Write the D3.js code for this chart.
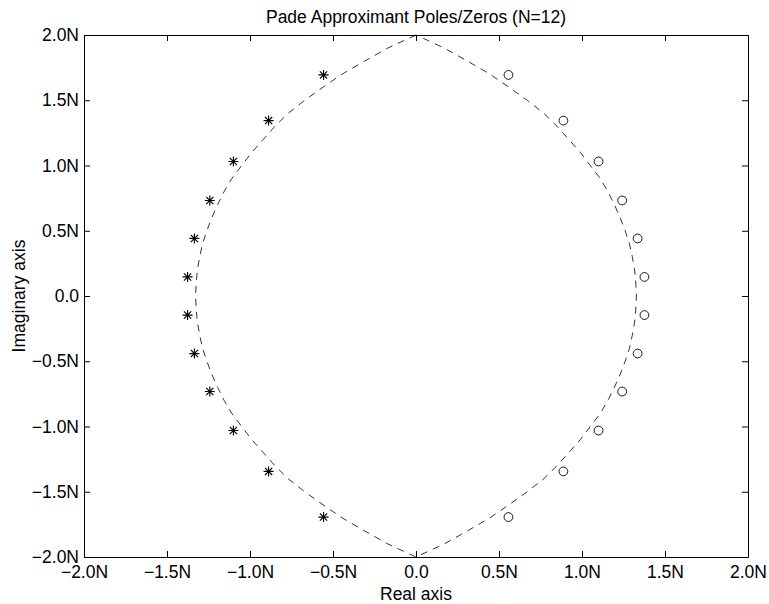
<!DOCTYPE html>
<html>
<head>
<meta charset="utf-8">
<script src="https://cdn.jsdelivr.net/npm/d3@7"></script>
<style>
  html, body { margin: 0; padding: 0; background: #fff; }
  svg { display: block; font-family: "Liberation Sans", Arial, Helvetica, sans-serif; }
</style>
</head>
<body>
<svg id="chart" width="769" height="604"></svg>
<script>
// Poles (left half-plane) and zeros (right half-plane), in units of N
const poleRe = [-0.557, -0.888, -1.100, -1.242, -1.335, -1.376, -1.376, -1.335, -1.242, -1.100, -0.888, -0.557];
const poleIm = [ 1.694,  1.344,  1.031,  0.732,  0.441,  0.146, -0.146, -0.441, -0.732, -1.031, -1.344, -1.694];
const zeroRe = [ 0.557,  0.888,  1.100,  1.242,  1.335,  1.376,  1.376,  1.335,  1.242,  1.100,  0.888,  0.557];
const zeroIm = [ 1.694,  1.344,  1.031,  0.732,  0.441,  0.146, -0.146, -0.441, -0.732, -1.031, -1.344, -1.694];

// Limit curve, one quadrant (|Re|, |Im|); the curve is symmetric about both axes
const curveRe = [0, 0.170, 0.310, 0.445, 0.560, 0.670, 0.770, 0.850, 0.920, 0.990, 1.050,
                 1.110, 1.156, 1.195, 1.230, 1.260, 1.286, 1.303, 1.317, 1.324, 1.328];
const curveIm = [2.0, 1.9, 1.8, 1.7, 1.6, 1.5, 1.4, 1.3, 1.2, 1.1, 1.0,
                 0.9, 0.8, 0.7, 0.6, 0.5, 0.4, 0.3, 0.2, 0.1, 0.0];

const xTicks = [-2, -1.5, -1, -0.5, 0, 0.5, 1, 1.5, 2];
const yTicks = [-2, -1.5, -1, -0.5, 0, 0.5, 1, 1.5, 2];
const xTickLabels = ["\u22122.0N", "\u22121.5N", "\u22121.0N", "\u22120.5N", "0.0", "0.5N", "1.0N", "1.5N", "2.0N"];
const yTickLabels = ["\u22122.0N", "\u22121.5N", "\u22121.0N", "\u22120.5N", "0.0", "0.5N", "1.0N", "1.5N", "2.0N"];

const titleText = "Pade Approximant Poles/Zeros (N=12)";
const xLabel = "Real axis";
const yLabel = "Imaginary axis";

const margin = { left: 84, right: 21, top: 35, bottom: 47 };
const W = 769, H = 604;
const svg = d3.select("#chart");

const x = d3.scaleLinear().domain([-2, 2]).range([margin.left, W - margin.right]);
const y = d3.scaleLinear().domain([-2, 2]).range([H - margin.bottom, margin.top]);

const tickLen = 6;
const fontSize = 17.5;

// Closed limit curve: upper-left -> lower-left -> lower-right -> upper-right
const curvePts = [];
curveRe.forEach((r, i) => curvePts.push([-r, curveIm[i]]));
for (let i = curveRe.length - 2; i >= 0; i--) curvePts.push([-curveRe[i], -curveIm[i]]);
for (let i = 1; i < curveRe.length; i++) curvePts.push([curveRe[i], -curveIm[i]]);
for (let i = curveRe.length - 2; i >= 0; i--) curvePts.push([curveRe[i], curveIm[i]]);

const line = d3.line().x(d => x(d[0])).y(d => y(d[1])).curve(d3.curveLinear);

svg.append("path")
  .attr("d", line(curvePts))
  .attr("fill", "none")
  .attr("stroke", "#000")
  .attr("stroke-width", 0.8)
  .attr("stroke-dasharray", "7,6");

// Axes (box with inward ticks on all sides)
const axes = svg.append("g");
const xb = axes.append("g").attr("transform", `translate(0,${y(-2)})`)
  .call(d3.axisBottom(x).tickValues(xTicks).tickSizeInner(-tickLen).tickSizeOuter(0)
    .tickFormat((d, i) => xTickLabels[i]));
const xt = axes.append("g").attr("transform", `translate(0,${y(2)})`)
  .call(d3.axisTop(x).tickValues(xTicks).tickSizeInner(-tickLen).tickSizeOuter(0).tickFormat(""));
const yl = axes.append("g").attr("transform", `translate(${x(-2)},0)`)
  .call(d3.axisLeft(y).tickValues(yTicks).tickSizeInner(-tickLen).tickSizeOuter(0)
    .tickFormat((d, i) => yTickLabels[i]).tickPadding(5));
const yr = axes.append("g").attr("transform", `translate(${x(2)},0)`)
  .call(d3.axisRight(y).tickValues(yTicks).tickSizeInner(-tickLen).tickSizeOuter(0).tickFormat(""));

axes.selectAll(".domain").attr("stroke", "#000").attr("stroke-width", 1);
axes.selectAll(".tick line").attr("stroke", "#000").attr("stroke-width", 1);
axes.selectAll(".tick text")
  .attr("fill", "#000")
  .style("font-size", fontSize + "px")
  .style("font-family", "'Liberation Sans', Arial, sans-serif");
xb.selectAll(".tick text").attr("y", 9).attr("dy", "0.71em");

// Zeros: open circles
svg.append("g").selectAll("circle")
  .data(zeroRe.map((r, i) => [r, zeroIm[i]]))
  .join("circle")
  .attr("cx", d => x(d[0]))
  .attr("cy", d => y(d[1]))
  .attr("r", 4.4)
  .attr("fill", "none")
  .attr("stroke", "#000")
  .attr("stroke-width", 0.9);

// Poles: asterisks
const s = 5, t = s * 0.72;
const star = `M${-s},0L${s},0M0,${-s}L0,${s}M${-t},${-t}L${t},${t}M${-t},${t}L${t},${-t}`;
svg.append("g").selectAll("path")
  .data(poleRe.map((r, i) => [r, poleIm[i]]))
  .join("path")
  .attr("transform", d => `translate(${x(d[0])},${y(d[1])})`)
  .attr("d", star)
  .attr("fill", "none")
  .attr("stroke", "#000")
  .attr("stroke-width", 1.15);

// Labels
svg.append("text")
  .attr("x", (x(-2) + x(2)) / 2).attr("y", 23)
  .attr("text-anchor", "middle")
  .style("font-size", fontSize + "px")
  .text(titleText);

svg.append("text")
  .attr("x", (x(-2) + x(2)) / 2).attr("y", 600)
  .attr("text-anchor", "middle")
  .style("font-size", fontSize + "px")
  .text(xLabel);

svg.append("text")
  .attr("transform", `translate(25,${(y(-2) + y(2)) / 2}) rotate(-90)`)
  .attr("text-anchor", "middle")
  .style("font-size", fontSize + "px")
  .text(yLabel);
</script>
</body>
</html>
